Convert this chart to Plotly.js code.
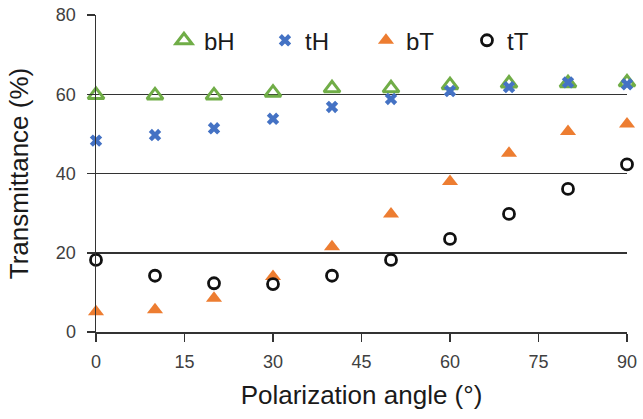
<!DOCTYPE html>
<html>
<head>
<meta charset="utf-8">
<script src="https://cdn.plot.ly/plotly-3.0.1.min.js"></script>
<style>
  html, body { margin: 0; padding: 0; background: #fff; }
  #chart { width: 643px; height: 419px; }
</style>
</head>
<body>
<div id="chart"></div>
<script>
// Polarization angle (degrees)
const angle = [0, 10, 20, 30, 40, 50, 60, 70, 80, 90];

// Transmittance (%) for each sample
const bH = [59.8, 59.7, 59.7, 60.4, 61.5, 61.5, 62.3, 62.7, 62.8, 63.0];
const tH = [48.3, 49.7, 51.4, 53.8, 56.8, 58.8, 60.8, 61.8, 63.0, 62.5];
const bT = [5.1, 5.6, 8.5, 14.0, 21.5, 29.8, 38.0, 45.1, 50.6, 52.5];
const tT = [18.2, 14.2, 12.3, 12.1, 14.2, 18.2, 23.5, 29.8, 36.1, 42.3];

const xTicks = [0, 15, 30, 45, 60, 75, 90];
const yTicks = [0, 20, 40, 60, 80];

const FONT = 'Liberation Sans, Arial, sans-serif';

const traces = [
  {
    name: 'bH', x: angle, y: bH, type: 'scatter', mode: 'markers', cliponaxis: false,
    marker: { symbol: 'triangle-up-open', size: 14, color: '#70AD47', line: { width: 3, color: '#70AD47' } }
  },
  {
    name: 'tH', x: angle, y: tH, type: 'scatter', mode: 'markers', cliponaxis: false,
    marker: { symbol: 'x', size: 11, color: '#4472C4', line: { width: 0 } }
  },
  {
    name: 'bT', x: angle, y: bT, type: 'scatter', mode: 'markers', cliponaxis: false,
    marker: { symbol: 'triangle-up', size: 14, color: '#ED7D31', line: { width: 0 } }
  },
  {
    name: 'tT', x: angle, y: tT, type: 'scatter', mode: 'markers', cliponaxis: false,
    marker: { symbol: 'circle-open', size: 11, color: '#111111', line: { width: 2.8, color: '#111111' } }
  }
];

const layout = {
  width: 643,
  height: 419,
  margin: { l: 96, r: 16, t: 15, b: 87 },
  paper_bgcolor: '#ffffff',
  plot_bgcolor: '#ffffff',
  font: { family: FONT, color: '#404040' },
  showlegend: true,
  legend: {
    orientation: 'h',
    x: 0.128, xanchor: 'left',
    y: 0.99, yanchor: 'top',
    font: { family: FONT, size: 24, color: '#1a1a1a' },
    bgcolor: 'rgba(255,255,255,0)',
    entrywidth: 56, entrywidthmode: 'pixels',
    itemwidth: 30
  },
  xaxis: {
    range: [0, 90],
    tickvals: xTicks,
    ticktext: xTicks.map(String),
    ticks: 'outside', ticklen: 8, tickwidth: 1.5, tickcolor: '#333333',
    ticklabelstandoff: 5,
    showline: true, linecolor: '#333333', linewidth: 1.5,
    showgrid: false, zeroline: false,
    tickfont: { family: FONT, size: 18, color: '#404040' },
    title: { text: 'Polarization angle (°)', font: { family: FONT, size: 26, color: '#1a1a1a' }, standoff: 14 }
  },
  yaxis: {
    range: [0, 80],
    tickvals: yTicks,
    ticktext: yTicks.map(String),
    ticks: 'outside', ticklen: 8, tickwidth: 1.5, tickcolor: '#333333',
    ticklabelstandoff: 7,
    showline: true, linecolor: '#333333', linewidth: 1.5,
    showgrid: true, gridcolor: '#333333', gridwidth: 1.5,
    zeroline: false,
    tickfont: { family: FONT, size: 18, color: '#404040' },
    title: { text: 'Transmittance (%)', font: { family: FONT, size: 26, color: '#1a1a1a' }, standoff: 20 }
  }
};

Plotly.newPlot('chart', traces, layout, { displayModeBar: false, staticPlot: true });
</script>
</body>
</html>
